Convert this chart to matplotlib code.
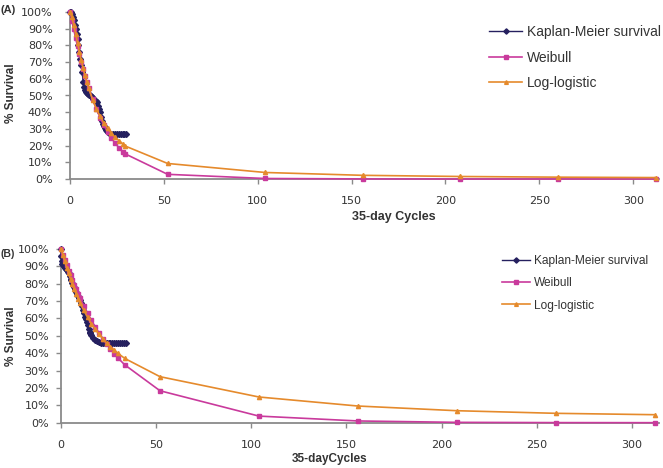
import matplotlib
matplotlib.use("Agg")
import matplotlib.pyplot as plt
from matplotlib.ticker import FuncFormatter

# ---------------- data ----------------
# Panel A
a_km_t = [0, 0.5, 1, 1.5, 2, 2.5, 3, 3.5, 4, 4.5, 5, 5.5, 6, 6.5, 7, 7.5, 8, 8.5, 9, 9.5,
          10, 10.5, 11, 11.5, 12, 12.5, 13, 13.5, 14, 14.5, 15, 15.5, 16, 16.5, 17, 17.5,
          18, 18.5, 19, 19.5, 20, 21, 22, 23, 24, 25, 26, 27, 28, 29, 30]
a_km_s = [100, 100, 99, 97, 95, 92, 90, 87, 84, 80, 76, 72, 68, 64, 58, 55, 53, 52, 51.5, 51,
          50.5, 50, 49.5, 49, 48.5, 48, 47.5, 47, 47, 46, 44, 42, 40, 37, 35, 33,
          31.5, 30.5, 29.5, 29, 28, 27.5, 27, 27, 27, 27, 27, 27, 27, 27, 27]
a_fit_t = [0, 1, 2, 3, 4, 5, 6, 7, 8, 9, 10, 12, 14, 16, 18, 20, 22, 24, 26, 28, 29.5,
           52, 104, 156, 208, 260, 312]
a_weib = [100, 94.8, 89.6, 84.4, 79.4, 74.7, 70.2, 65.9, 61.9, 58.1, 54.5, 47.9, 42.0, 36.8,
          32.2, 28.2, 24.6, 21.5, 18.8, 16.4, 15.0, 2.8, 0.3, 0.05, 0.0, 0.0, 0.0]
a_llog = [100, 97.0, 92.3, 87.0, 81.6, 76.3, 71.2, 66.4, 62.0, 57.9, 54.2, 47.6, 42.2, 37.6,
          33.7, 30.4, 27.5, 25.1, 23.0, 21.2, 19.7, 9.3, 3.9, 2.2, 1.5, 1.1, 0.85]

# Panel B
b_km_t = [0, 0.2, 0.4, 0.7, 1, 1.5, 2, 2.5, 3, 3.5, 4, 4.5, 5, 5.5, 6, 6.5, 7, 7.5, 8, 8.5,
          9, 9.5, 10, 10.5, 11, 11.5, 12, 12.5, 13, 13.5, 14, 14.5, 15, 15.5, 16, 17, 18, 19,
          20, 21, 22, 23, 24, 25, 26, 27, 28, 29, 30, 31, 32, 33, 34]
b_km_s = [100, 96, 93, 91.5, 91, 90, 89, 88.5, 88, 87, 86, 84.5, 83, 82, 80.5, 79, 78, 77,
          75.5, 74, 73, 72, 70.5, 69, 67, 65, 63, 61, 59.5, 58, 56, 54, 52.5, 51.5, 50.5, 49,
          47.5, 47, 46.5, 46, 46, 46, 46, 46, 46, 46, 46, 46, 46, 46, 46, 46, 46]
b_fit_t = [0, 1, 2, 3, 4, 5, 6, 7, 8, 9, 10, 12, 14, 16, 18, 20, 22, 24, 26, 28, 30, 33.5,
           52, 104, 156, 208, 260, 312]
b_weib = [100, 96.8, 93.6, 90.6, 87.6, 84.8, 82.0, 79.4, 76.8, 74.3, 71.9, 67.3, 63.0, 59.0,
          55.2, 51.7, 48.4, 45.3, 42.4, 39.7, 37.2, 33.3, 18.4, 3.8, 1.0, 0.2, 0.05, 0.01]
b_llog = [100, 96.6, 92.9, 89.3, 85.9, 82.7, 79.6, 76.7, 74.0, 71.4, 69.0, 64.6, 60.6, 57.0,
          53.8, 50.9, 48.3, 45.9, 43.8, 41.8, 39.9, 37.0, 26.5, 14.8, 9.6, 6.9, 5.4, 4.6]

series_labels = ["Kaplan-Meier survival", "Weibull", "Log-logistic"]
x_ticks = [0, 50, 100, 150, 200, 250, 300]
y_ticks = [0, 10, 20, 30, 40, 50, 60, 70, 80, 90, 100]

# ---------------- style ----------------
KM_C = "#25205f"
WB_C = "#c93a9c"
LL_C = "#e58a2c"
AX_C = "#8a8a8a"
TXT_C = "#333333"

W, H = 663, 468
fig = plt.figure(figsize=(W / 100, H / 100), dpi=100)


def px_axes(left, right, top, bottom):
    return fig.add_axes([left / W, 1 - bottom / H, (right - left) / W, (bottom - top) / H])


def style_axes(ax, ypad):
    ax.set_xlim(0, 314)
    ax.set_ylim(0, 100)
    for s in ("top", "right"):
        ax.spines[s].set_visible(False)
    for s in ("left", "bottom"):
        ax.spines[s].set_color(AX_C)
        ax.spines[s].set_linewidth(1.3)
    ax.set_xticks(x_ticks)
    ax.set_yticks(y_ticks)
    ax.yaxis.set_major_formatter(FuncFormatter(lambda v, p: f"{int(v)}%"))
    ax.tick_params(axis="both", direction="out", length=3.5, width=1.0, color=AX_C,
                   labelsize=8, labelcolor=TXT_C)
    ax.tick_params(axis="x", pad=9)
    ax.tick_params(axis="y", pad=ypad)


def draw(ax, km_t, km_s, fit_t, weib, llog):
    ax.plot(km_t, km_s, color=KM_C, lw=1.0, marker="D", ms=3.0, mec=KM_C, mfc=KM_C,
            clip_on=False, zorder=3, label=series_labels[0])
    ax.plot(fit_t, weib, color=WB_C, lw=1.2, marker="s", ms=3.3, mec=WB_C, mfc=WB_C,
            clip_on=False, zorder=4, label=series_labels[1])
    ax.plot(fit_t, llog, color=LL_C, lw=1.2, marker="^", ms=3.0, mec=LL_C, mfc=LL_C,
            clip_on=False, zorder=5, label=series_labels[2])


# Panel A
axA = px_axes(70, 659.5, 12, 179)
draw(axA, a_km_t, a_km_s, a_fit_t, a_weib, a_llog)
style_axes(axA, 9)
legA = fig.legend(*axA.get_legend_handles_labels(), loc="center left",
                  bbox_to_anchor=(489 / W, 1 - 57.5 / H), frameon=False,
                  prop={"family": "Liberation Sans", "size": 10}, handlelength=2.4,
                  handletextpad=0.35, labelspacing=0.83, borderpad=0, borderaxespad=0,
                  markerscale=0.9)
for t in legA.get_texts():
    t.set_color(TXT_C)
fig.text(394 / W, 1 - 217 / H, "35-day Cycles", ha="center", va="center",
         family="Liberation Sans", weight="bold", size=9, color=TXT_C)
fig.text(11 / W, 1 - 93 / H, "% Survival", ha="center", va="center", rotation=90,
         family="Liberation Sans", weight="bold", size=8.5, color=TXT_C)
fig.text(0.5 / W, 1 - 10 / H, "(A)", ha="left", va="center",
         family="Liberation Sans", weight="bold", size=8, color=TXT_C)

# Panel B
axB = px_axes(61, 658.6, 249, 422.7)
draw(axB, b_km_t, b_km_s, b_fit_t, b_weib, b_llog)
style_axes(axB, 5)
legB = fig.legend(*axB.get_legend_handles_labels(), loc="center left",
                  bbox_to_anchor=(502 / W, 1 - 283.5 / H), frameon=False,
                  prop={"family": "Liberation Sans", "size": 8.6}, handlelength=2.35,
                  handletextpad=0.3, labelspacing=0.85, borderpad=0, borderaxespad=0,
                  markerscale=0.9)
for t in legB.get_texts():
    t.set_color(TXT_C)
fig.text(330 / W, 1 - 459 / H, "35-dayCycles", ha="center", va="center",
         family="Liberation Sans", weight="bold", size=8.5, color=TXT_C)
fig.text(11 / W, 1 - 336 / H, "% Survival", ha="center", va="center", rotation=90,
         family="Liberation Sans", weight="bold", size=8.5, color=TXT_C)
fig.text(0.5 / W, 1 - 254 / H, "(B)", ha="left", va="center",
         family="Liberation Sans", weight="bold", size=7.5, color=TXT_C)

fig.savefig("out.png", dpi=100)
